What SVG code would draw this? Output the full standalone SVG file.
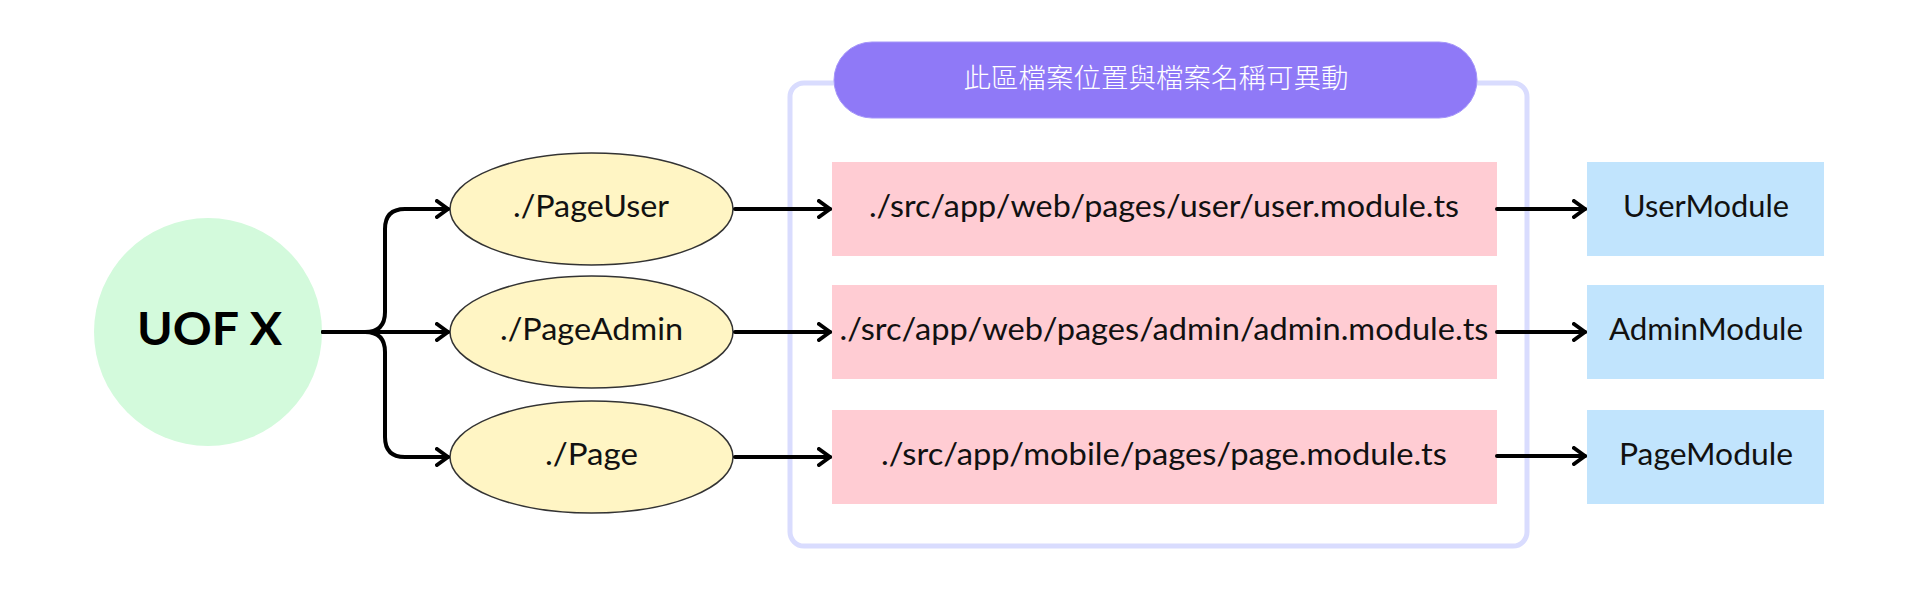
<svg xmlns="http://www.w3.org/2000/svg" width="1920" height="600" viewBox="0 0 1920 600">
<defs>
<style>
.lbl{font-family:Lato,"Noto Sans",sans-serif;font-size:30px;fill:#111;text-anchor:middle}
.ell{fill:#fff5c4;stroke:#333;stroke-width:1.5}
.pink{fill:#ffccd3}
.blue{fill:#c1e4fd}
.conn{fill:none;stroke:#000;stroke-width:4;stroke-linecap:round;stroke-linejoin:round}
</style>
<marker id="arr" viewBox="0 0 16 20" refX="13" refY="10" markerWidth="16" markerHeight="20" markerUnits="userSpaceOnUse" orient="auto">
<path d="M2 2 L13 10 L2 18" fill="none" stroke="#000" stroke-width="4" stroke-linecap="round" stroke-linejoin="round"/>
</marker>
</defs>
<rect width="1920" height="600" fill="#fff"/>
<g id="container">
<rect x="790" y="83" width="737" height="463" rx="14" fill="none" stroke="#d9dcfe" stroke-width="5"/>
</g>
<g id="banner">
<rect x="834" y="42" width="643" height="76" rx="38" fill="#8f79f7" stroke="#a596f9" stroke-width="1"/>
<text x="1156" y="88" font-family="'Noto Sans CJK TC',sans-serif" font-size="27.5" font-weight="300" fill="#fff" text-anchor="middle">此區檔案位置與檔案名稱可異動</text>
</g>
<g id="uofx">
<circle cx="208" cy="332" r="114" fill="#d3fadc"/>
<text x="209.5" y="345" font-family="Lato,'Noto Sans',sans-serif" font-size="46" font-weight="bold" fill="#000" text-anchor="middle" textLength="145" lengthAdjust="spacingAndGlyphs">UOF X</text>
</g>
<g id="pageuser">
<ellipse class="ell" cx="591.5" cy="209" rx="141.5" ry="56"/>
<text class="lbl" x="591" y="217" textLength="156" lengthAdjust="spacingAndGlyphs">./PageUser</text>
</g>
<g id="pageadmin">
<ellipse class="ell" cx="591.5" cy="332" rx="141.5" ry="56"/>
<text class="lbl" x="591.5" y="340" textLength="183" lengthAdjust="spacingAndGlyphs">./PageAdmin</text>
</g>
<g id="page">
<ellipse class="ell" cx="591.5" cy="457" rx="141.5" ry="56"/>
<text class="lbl" x="591.5" y="465" textLength="93" lengthAdjust="spacingAndGlyphs">./Page</text>
</g>
<g id="path-user">
<rect class="pink" x="832" y="162" width="665" height="94"/>
<text class="lbl" x="1164" y="217" textLength="590" lengthAdjust="spacingAndGlyphs">./src/app/web/pages/user/user.module.ts</text>
</g>
<g id="path-admin">
<rect class="pink" x="832" y="285" width="665" height="94"/>
<text class="lbl" x="1164" y="340" textLength="649" lengthAdjust="spacingAndGlyphs">./src/app/web/pages/admin/admin.module.ts</text>
</g>
<g id="path-page">
<rect class="pink" x="832" y="410" width="665" height="94"/>
<text class="lbl" x="1164" y="465" textLength="566" lengthAdjust="spacingAndGlyphs">./src/app/mobile/pages/page.module.ts</text>
</g>
<g id="usermodule">
<rect class="blue" x="1587" y="162" width="237" height="94"/>
<text class="lbl" x="1706" y="217" textLength="166" lengthAdjust="spacingAndGlyphs">UserModule</text>
</g>
<g id="adminmodule">
<rect class="blue" x="1587" y="285" width="237" height="94"/>
<text class="lbl" x="1706" y="340" textLength="194" lengthAdjust="spacingAndGlyphs">AdminModule</text>
</g>
<g id="pagemodule">
<rect class="blue" x="1587" y="410" width="237" height="94"/>
<text class="lbl" x="1706" y="465" textLength="174" lengthAdjust="spacingAndGlyphs">PageModule</text>
</g>
<g id="connectors">
<path class="conn" marker-end="url(#arr)" d="M323 332 H365 Q385 332 385 312 V229 Q385 209 405 209 H448"/>
<path class="conn" marker-end="url(#arr)" d="M323 332 H448"/>
<path class="conn" marker-end="url(#arr)" d="M323 332 H365 Q385 332 385 352 V437 Q385 457 405 457 H448"/>
<path class="conn" marker-end="url(#arr)" d="M735 209 H830"/>
<path class="conn" marker-end="url(#arr)" d="M735 332 H830"/>
<path class="conn" marker-end="url(#arr)" d="M735 457 H830"/>
<path class="conn" marker-end="url(#arr)" d="M1497 209 H1585"/>
<path class="conn" marker-end="url(#arr)" d="M1497 332 H1585"/>
<path class="conn" marker-end="url(#arr)" d="M1497 456 H1585"/>
</g>
</svg>
